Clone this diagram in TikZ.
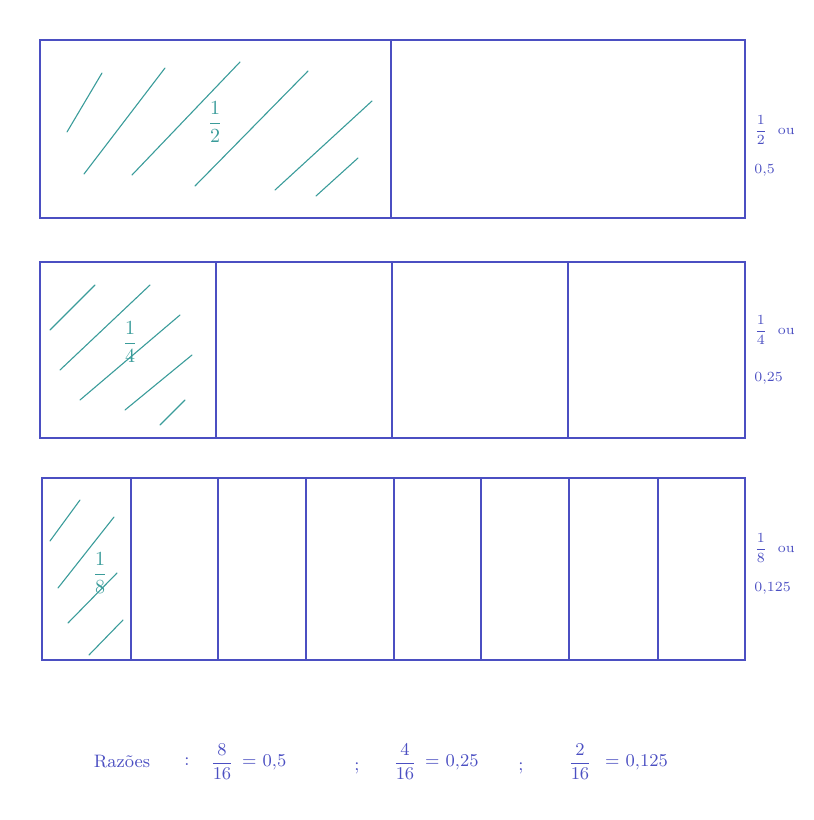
\documentclass[tikz,border=0pt]{standalone}
\usepackage{amsmath}
\usepackage{tikz}
\definecolor{InkBlue}{HTML}{4B4FC2}
\definecolor{InkTeal}{HTML}{3A9C9A}

\begin{document}
\begin{tikzpicture}[x=0.5pt,y=-0.5pt,font=\small,
  bar/.style={InkBlue,line width=0.6pt},
  hatch/.style={InkTeal,line width=0.55pt,line cap=round},
  side/.style={InkBlue,font=\scriptsize,anchor=west,inner sep=1pt}]
  \useasboundingbox (0,0) rectangle (814,820);
  % metade
  \draw[bar] (40,40) rectangle (745,218);
  \draw[bar] (391,40) -- (391,218);
  \foreach \a/\b/\c/\d in {67/132/102/73,84/174/165/68,132/175/240/62,
    195/186/308/71,275/190/372/101,316/196/358/158}
    {\draw[hatch] (\a,\b) -- (\c,\d);}
  \node[InkTeal,font=\normalsize] (half) at (215,122) {$\dfrac{1}{2}$};
  \node[side] (halfou) at (752,130) {$\dfrac{1}{2}$ \ ou};
  \node[side] (halfdec) at (752,170) {0,5};
  % quartos
  \draw[bar] (40,262) rectangle (745,438);
  \foreach \x in {216,392,568} {\draw[bar] (\x,262) -- (\x,438);}
  \foreach \a/\b/\c/\d in {50/330/95/285,60/370/150/285,80/400/180/315,
    125/410/192/355,160/425/185/400}
    {\draw[hatch] (\a,\b) -- (\c,\d);}
  \node[InkTeal,font=\normalsize] (quarter) at (130,342) {$\dfrac{1}{4}$};
  \node[side] (quarterou) at (752,330) {$\dfrac{1}{4}$ \ ou};
  \node[side] (quarterdec) at (752,378) {0,25};
  % oitavos
  \draw[bar] (42,478) rectangle (745,660);
  \foreach \x in {131,218,306,394,481,569,658} {\draw[bar] (\x,478) -- (\x,660);}
  \foreach \a/\b/\c/\d in {50/541/80/500,58/588/114/517,68/623/117/573,89/655/123/620}
    {\draw[hatch] (\a,\b) -- (\c,\d);}
  \node[InkTeal,font=\normalsize] (eighth) at (100,573) {$\dfrac{1}{8}$};
  \node[side] (eighthou) at (752,548) {$\dfrac{1}{8}$ \ ou};
  \node[side] (eighthdec) at (752,588) {0,125};
  % razoes
  \begin{scope}[InkBlue]
    \node (razoes) at (122,762) {Razões};
    \node (colon) at (187,762) {:};
    \node (r1) at (222,762) {$\dfrac{8}{16}$};
    \node[anchor=west] (v1) at (235,762) {= 0,5};
    \node (semi1) at (357,768) {;};
    \node (r2) at (405,762) {$\dfrac{4}{16}$};
    \node[anchor=west] (v2) at (418,762) {= 0,25};
    \node (semi2) at (521,768) {;};
    \node (r3) at (580,762) {$\dfrac{2}{16}$};
    \node[anchor=west] (v3) at (598,762) {= 0,125};
  \end{scope}
\end{tikzpicture}
\end{document}
